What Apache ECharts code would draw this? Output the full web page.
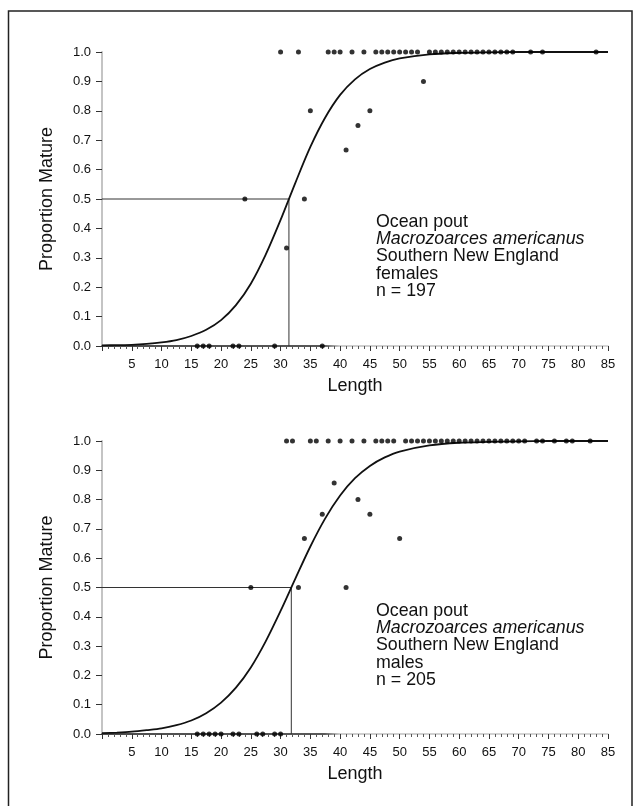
<!DOCTYPE html>
<html>
<head>
<meta charset="utf-8">
<script src="https://cdn.jsdelivr.net/npm/echarts@6/dist/echarts.min.js"></script>
<style>
html,body{margin:0;padding:0;background:#fff;}
#chart{width:639px;height:806px;}
</style>
</head>
<body>
<div id="chart"></div>
<script>
// ---- data ----
const yTickLabels = ['0.0','0.1','0.2','0.3','0.4','0.5','0.6','0.7','0.8','0.9','1.0'];
const xTickLabels = ['', '5','10','15','20','25','30','35','40','45','50','55','60','65','70','75','80','85'];

// fitted curves
const curveLen    = [0, 2.5, 5, 7.5, 10, 12.5, 15, 17.5, 20, 22.5, 25, 27.5, 30, 32.5, 35, 37.5, 40, 42.5, 45, 47.5, 50, 55, 60, 65, 70, 75, 80, 85];
const femaleCurve = [0.002, 0.003, 0.004, 0.007, 0.012, 0.020, 0.034, 0.055, 0.088, 0.139, 0.212, 0.311, 0.429, 0.556, 0.677, 0.777, 0.854, 0.907, 0.942, 0.964, 0.978, 0.992, 0.997, 0.999, 1.0, 1.0, 1.0, 1.0];
const maleCurve   = [0.003, 0.005, 0.008, 0.013, 0.019, 0.030, 0.046, 0.071, 0.107, 0.158, 0.227, 0.316, 0.420, 0.531, 0.640, 0.736, 0.814, 0.873, 0.915, 0.944, 0.964, 0.985, 0.994, 0.997, 0.999, 1.0, 1.0, 1.0];

// length at 50% maturity
const femaleL50 = 31.4;
const maleL50 = 31.8;

// observed proportions (females)
const femaleLen  = [30,33,38,39,40,42,44,46,47,48,49,50,51,52,53,55,56,57,58,59,60,61,62,63,64,65,66,67,68,69,72,74,83,
                    54,35,45,43,41,24,34,31,
                    16,17,18,22,23,29,37];
const femaleProp = [1,1,1,1,1,1,1,1,1,1,1,1,1,1,1,1,1,1,1,1,1,1,1,1,1,1,1,1,1,1,1,1,1,
                    0.9,0.8,0.8,0.75,0.667,0.5,0.5,0.333,
                    0,0,0,0,0,0,0];

// observed proportions (males)
const maleLen  = [31,32,35,36,38,40,42,44,46,47,48,49,51,52,53,54,55,56,57,58,59,60,61,62,63,64,65,66,67,68,69,70,71,73,74,76,78,79,82,
                  39,43,37,45,34,50,25,33,41,
                  16,17,18,19,20,22,23,26,27,29,30];
const maleProp = [1,1,1,1,1,1,1,1,1,1,1,1,1,1,1,1,1,1,1,1,1,1,1,1,1,1,1,1,1,1,1,1,1,1,1,1,1,1,1,
                  0.857,0.8,0.75,0.75,0.667,0.667,0.5,0.5,0.5,
                  0,0,0,0,0,0,0,0,0,0,0];

const femaleText = ['Ocean pout', 'Macrozoarces americanus', 'Southern New England', 'females', 'n = 197'];
const maleText   = ['Ocean pout', 'Macrozoarces americanus', 'Southern New England', 'males', 'n = 205'];

// ---- build ----
const FONT = 'Liberation Sans, Arial, Helvetica, sans-serif';
const chart = echarts.init(document.getElementById('chart'));

function zip(a, b) { return a.map((v, i) => [v, b[i]]); }

const axisGrad = new echarts.graphic.LinearGradient(0, 0, 1, 0, [
  {offset: 0, color: '#111'}, {offset: 0.44, color: '#222'},
  {offset: 0.47, color: '#bdbdbd'}, {offset: 1, color: '#c8c8c8'}
]);

function xAxisFor(gi) {
  return {
    type: 'value', gridIndex: gi, min: 0, max: 85, interval: 5,
    name: 'Length', nameLocation: 'middle', nameGap: 31,
    nameTextStyle: {fontFamily: FONT, fontSize: 18, color: '#111'},
    axisLine: {show: true, onZero: false, lineStyle: {color: axisGrad, width: 1.5}},
    axisTick: {show: true, inside: false, length: 5, lineStyle: {color: '#333', width: 1}},
    minorTick: {show: true, splitNumber: 5, length: 3, lineStyle: {color: '#555', width: 1}},
    splitLine: {show: false},
    axisLabel: {fontFamily: FONT, fontSize: 13, color: '#111', margin: 12,
      formatter: v => xTickLabels[Math.round(v / 5)] || ''}
  };
}
function yAxisFor(gi) {
  return {
    type: 'value', gridIndex: gi, min: 0, max: 1, interval: 0.1,
    name: 'Proportion Mature', nameLocation: 'middle', nameGap: 46,
    nameTextStyle: {fontFamily: FONT, fontSize: 18, color: '#111'},
    axisLine: {show: true, onZero: false, lineStyle: {color: '#c4c4c4', width: 2}},
    axisTick: {show: true, inside: false, length: 6, lineStyle: {color: '#333', width: 1}},
    splitLine: {show: false},
    axisLabel: {fontFamily: FONT, fontSize: 13, color: '#111', margin: 11,
      formatter: v => yTickLabels[Math.round(v * 10)]}
  };
}
function textBlock(lines, x, y0) {
  return lines.map((t, i) => ({
    type: 'text', left: x, top: y0 + i * 17.3, z: 10,
    style: {text: t, fontFamily: FONT, fontSize: 17.8, fill: '#111',
            fontStyle: i === 1 ? 'italic' : 'normal'}
  }));
}

const option = {
  backgroundColor: '#fff',
  animation: false,
  grid: [
    {left: 102, right: 31, top: 52, height: 294},
    {left: 102, right: 31, top: 441, height: 293}
  ],
  xAxis: [xAxisFor(0), xAxisFor(1)],
  yAxis: [yAxisFor(0), yAxisFor(1)],
  series: [
    {type: 'line', xAxisIndex: 0, yAxisIndex: 0, data: zip(curveLen, femaleCurve),
     smooth: 0.3, showSymbol: false, lineStyle: {color: '#111', width: 1.8}, z: 3},
    {type: 'line', xAxisIndex: 0, yAxisIndex: 0,
     data: [[0, 0.5], [femaleL50, 0.5], [femaleL50, 0]],
     showSymbol: false, lineStyle: {color: '#333', width: 1}, z: 2},
    {type: 'scatter', xAxisIndex: 0, yAxisIndex: 0, data: zip(femaleLen, femaleProp),
     symbolSize: 5, itemStyle: {color: '#000'}, clip: false, z: 4},

    {type: 'line', xAxisIndex: 1, yAxisIndex: 1, data: zip(curveLen, maleCurve),
     smooth: 0.3, showSymbol: false, lineStyle: {color: '#111', width: 1.8}, z: 3},
    {type: 'line', xAxisIndex: 1, yAxisIndex: 1,
     data: [[0, 0.5], [maleL50, 0.5], [maleL50, 0]],
     showSymbol: false, lineStyle: {color: '#333', width: 1}, z: 2},
    {type: 'scatter', xAxisIndex: 1, yAxisIndex: 1, data: zip(maleLen, maleProp),
     symbolSize: 5, itemStyle: {color: '#000'}, clip: false, z: 4}
  ],
  graphic: [
    {type: 'polyline', z: 1, shape: {points: [[8.5, 806], [8.5, 11], [632, 11], [632, 806]]},
     style: {stroke: '#222', lineWidth: 1.5, fill: null}}
  ].concat(textBlock(femaleText, 376, 213)).concat(textBlock(maleText, 376, 602))
};
chart.setOption(option);
</script>
</body>
</html>
